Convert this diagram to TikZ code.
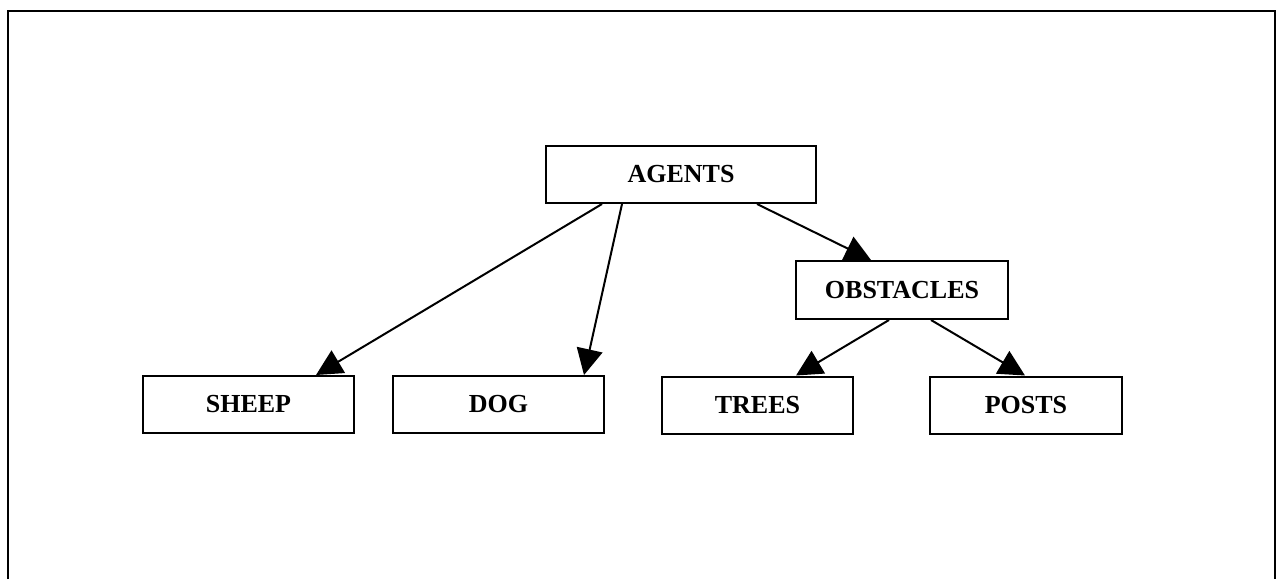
\documentclass[tikz,border=0pt]{standalone}
\usepackage{fontspec}
\setmainfont{Liberation Serif}
\usetikzlibrary{arrows.meta,calc}
\begin{document}
\begin{tikzpicture}[x=0.5pt,y=-0.5pt,
  box/.style={draw,line width=1pt,minimum height=28.5pt,inner sep=0pt,
    font=\fontsize{13}{15}\selectfont\bfseries},
  link/.style={line width=1pt,-{Triangle[length=13pt,width=13pt]}}]
\useasboundingbox (0,0) rectangle (1277,579);
% outer frame, open at the bottom edge
\draw[line width=1.25pt] (8,579) -- (8,11) -- (1275,11) -- (1275,579);
% class boxes
\node[box,minimum width=135pt] (agents) at (681,174.5) {AGENTS};
\node[box,minimum width=106pt,minimum height=29pt] (obst) at (902,290) {OBSTACLES};
\node[box,minimum width=105.5pt] (sheep) at (248.5,404.5) {SHEEP};
\node[box,minimum width=105.5pt] (dog) at (498.5,404.5) {DOG};
\node[box,minimum width=95.5pt] (trees) at (757.5,405) {TREES};
\node[box,minimum width=96pt] (posts) at (1026,405) {POSTS};
% inheritance links
\draw[link] ($(agents.south west)+(57,0)$) -- ($(sheep.north west)+(174,0)$);
\draw[link] ($(agents.south west)+(77,0)$) -- ($(dog.north west)+(192,0)$);
\draw[link] ($(agents.south west)+(212,0)$) -- ($(obst.north west)+(76,0)$);
\draw[link] ($(obst.south west)+(94,0)$) -- ($(trees.north west)+(135,0)$);
\draw[link] ($(obst.south west)+(136,0)$) -- ($(posts.north west)+(96,0)$);
\end{tikzpicture}
\end{document}
